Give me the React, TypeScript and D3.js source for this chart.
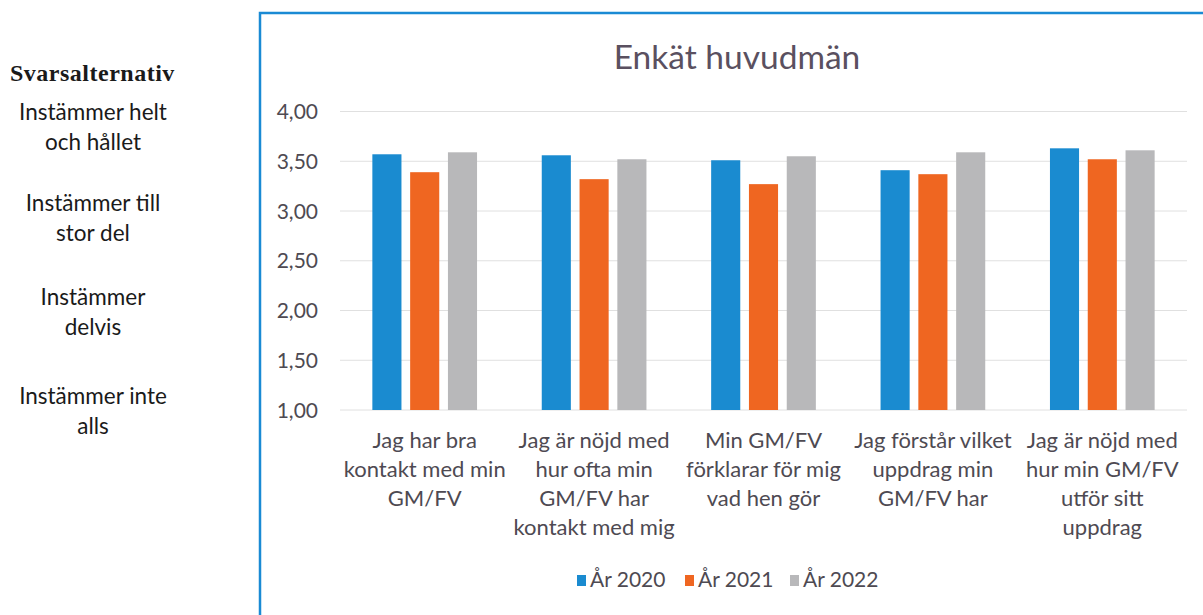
import React from "react";
import * as d3 from "d3";

const categories: string[][] = [
  ["Jag har bra", "kontakt med min", "GM/FV"],
  ["Jag är nöjd med", "hur ofta min", "GM/FV har", "kontakt med mig"],
  ["Min GM/FV", "förklarar för mig", "vad hen gör"],
  ["Jag förstår vilket", "uppdrag min", "GM/FV har"],
  ["Jag är nöjd med", "hur min GM/FV", "utför sitt", "uppdrag"],
];
const seriesNames = ["År 2020", "År 2021", "År 2022"];
const values2020 = [3.57, 3.56, 3.51, 3.41, 3.63];
const values2021 = [3.39, 3.32, 3.27, 3.37, 3.52];
const values2022 = [3.59, 3.52, 3.55, 3.59, 3.61];
const yTicks = [1.0, 1.5, 2.0, 2.5, 3.0, 3.5, 4.0];
const sideTitle = "Svarsalternativ";
const sideLabels: string[][] = [
  ["Instämmer helt", "och hållet"],
  ["Instämmer till", "stor del"],
  ["Instämmer", "delvis"],
  ["Instämmer inte", "alls"],
];
const title = "Enkät huvudmän";

const colors = ["#1a8bd0", "#ef6621", "#b8b8ba"];
const font = "Lato, 'Open Sans', sans-serif";
const textColor = "#4e4a52";

export default function App() {
  const series = [values2020, values2021, values2022];
  const x = d3
    .scaleBand<number>()
    .domain(categories.map((_, i) => i))
    .range([340, 1187])
    .paddingInner(0.382)
    .paddingOuter(0.191);
  const xs = d3
    .scaleBand<number>()
    .domain([0, 1, 2])
    .range([0, x.bandwidth()])
    .paddingInner(0.23)
    .paddingOuter(0);
  const y = d3.scaleLinear().domain([1, 4]).range([410, 111.5]);
  const fmt = (v: number) => d3.format(".2f")(v).replace(".", ",");
  const sideY = [120, 211, 305, 404];
  const legendX = [577, 685, 790];

  return (
    <div style={{ position: "absolute", left: 0, top: 0 }}>
      <svg width={1203} height={615} style={{ display: "block", background: "#fff" }}>
        <rect x={0} y={0} width={1203} height={615} fill="#fff" />
        {/* side text */}
        <text x={10} y={81} fontFamily="'Liberation Serif', 'DejaVu Serif', serif" fontWeight="bold" fontSize={24} letterSpacing={0.5} fill="#1a1a1a">
          {sideTitle}
        </text>
        {sideLabels.map((lines, i) =>
          lines.map((l, j) => (
            <text
              key={`s${i}-${j}`}
              x={93}
              y={sideY[i] + j * 29.5}
              textAnchor="middle"
              fontFamily={font}
              fontSize={22.5}
              fill="#1a1a1a"
            >
              {l}
            </text>
          ))
        )}
        {/* chart border */}
        <rect x={260} y={13} width={1000} height={700} fill="none" stroke="#1a8ad4" strokeWidth={2.5} />
        <text x={737} y={69} textAnchor="middle" fontFamily={font} fontSize={33.5} fill="#5a5060">
          {title}
        </text>
        {/* gridlines */}
        {yTicks.map((t) => (
          <g key={`g${t}`}>
            <line x1={340} x2={1187} y1={y(t)} y2={y(t)} stroke="#e0e0e0" strokeWidth={1} />
            <text x={318} y={y(t) + 7.5} textAnchor="end" fontFamily={font} fontSize={21} fill={textColor}>
              {fmt(t)}
            </text>
          </g>
        ))}
        {/* bars */}
        {series.map((vals, s) =>
          vals.map((v, i) => (
            <rect
              key={`b${s}-${i}`}
              x={(x(i) as number) + (xs(s) as number)}
              y={y(v)}
              width={xs.bandwidth()}
              height={y(1) - y(v)}
              fill={colors[s]}
            />
          ))
        )}
        {/* category labels */}
        {categories.map((lines, i) =>
          lines.map((l, j) => (
            <text
              key={`c${i}-${j}`}
              x={(x(i) as number) + x.bandwidth() / 2}
              y={448 + j * 29}
              textAnchor="middle"
              fontFamily={font}
              fontSize={22}
              fill={textColor}
            >
              {l}
            </text>
          ))
        )}
        {/* legend */}
        {seriesNames.map((n, s) => (
          <g key={`l${s}`}>
            <rect x={legendX[s]} y={575} width={9} height={11} fill={colors[s]} />
            <text x={legendX[s] + 13} y={587} fontFamily={font} fontSize={21} fill={textColor}>
              {n}
            </text>
          </g>
        ))}
      </svg>
    </div>
  );
}
